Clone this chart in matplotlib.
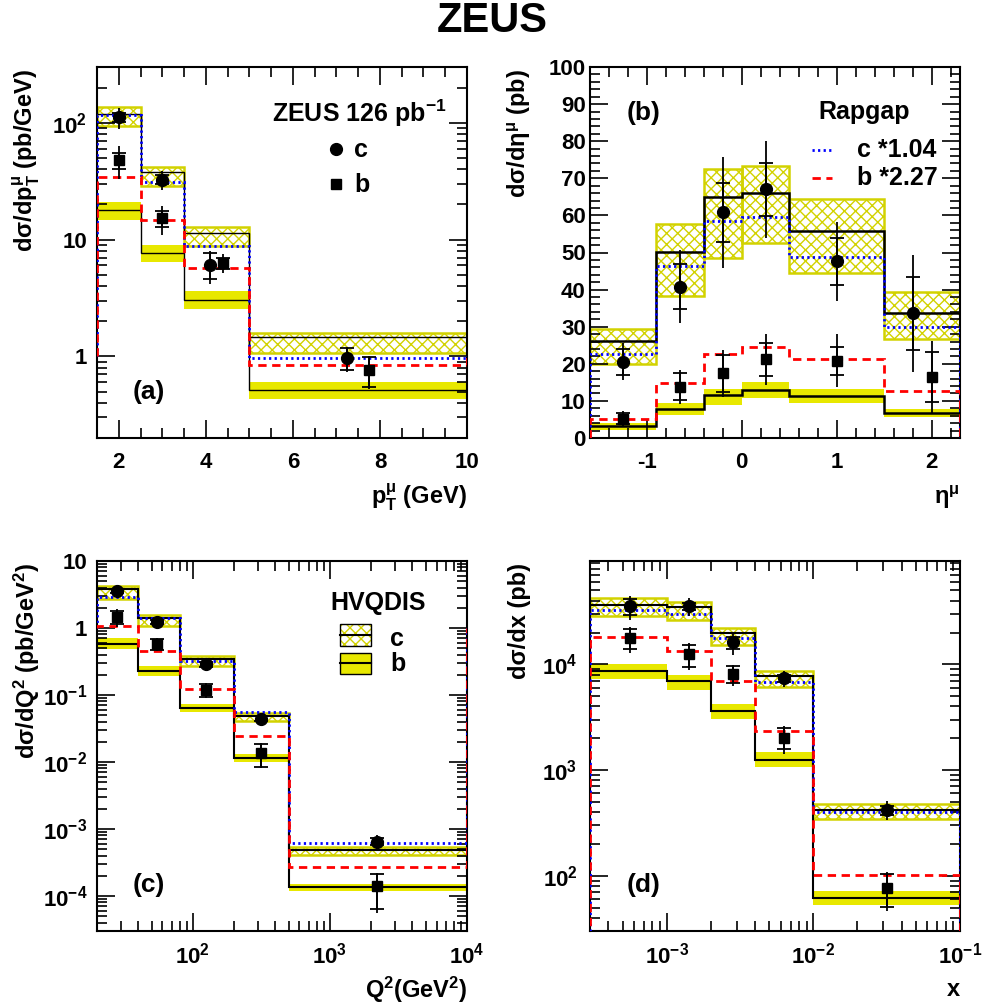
import numpy as np
import matplotlib
matplotlib.use("Agg")
import matplotlib.pyplot as plt
from matplotlib.ticker import MultipleLocator, FuncFormatter, LogLocator, NullFormatter
from matplotlib.patches import Rectangle

plt.rcParams.update({
    "font.family": "Liberation Sans",
    "font.weight": "bold",
    "mathtext.fontset": "custom",
    "mathtext.rm": "Liberation Sans:bold",
    "mathtext.it": "Liberation Sans:bold",
    "mathtext.bf": "Liberation Sans:bold",
    "mathtext.sf": "Liberation Sans:bold",
    "hatch.linewidth": 1.0,
    "axes.linewidth": 1.5,
    "axes.unicode_minus": False,
})

YELLOW = "#e8e800"
OLIVE = "#d2d200"

# ---- (a) pT ----
edges_a = [1.5, 2.5, 3.5, 5, 10]
xc_a = [2, 3, 4.1, 7.25]
yc_a = [111, 32.6, 6.1, 0.97]
c_stat_a = [10, 3, 1.5, 0.21]
c_tot_a = [23, 6, 1.9, 0.24]
xb_a = [2, 3, 4.4, 7.75]
yb_a = [48, 15.2, 6.3, 0.77]
b_stat_a = [7.5, 2.3, 0.7, 0.22]
b_tot_a = [15, 4.2, 1.15, 0.24]
hvq_c_a = [119, 38, 11.4, 1.46]
hvq_c_lo_a = [94, 28.8, 8.8, 1.07]
hvq_c_hi_a = [137, 41.5, 12.8, 1.6]
hvq_b_a = [18, 7.7, 3.06, 0.52]
hvq_b_lo_a = [14.7, 6.4, 2.56, 0.43]
hvq_b_hi_a = [20.8, 9.0, 3.6, 0.60]
rap_c_a = [116, 31, 8.8, 0.97]
rap_b_a = [34.5, 14.8, 5.7, 0.84]

# ---- (b) eta ----
edges_b = [-1.6, -0.9, -0.4, 0, 0.5, 1.5, 2.3]
xc_b = [-1.25, -0.65, -0.2, 0.25, 1.0, 1.8]
yc_b = [20.5, 40.8, 60.8, 67.0, 47.6, 33.6]
c_stat_b = [3.5, 6, 7.9, 7.1, 6.4, 9.8]
c_tot_b = [5, 9.8, 15, 13, 10.7, 15.8]
xb_b = [-1.25, -0.65, -0.2, 0.25, 1.0, 2.0]
yb_b = [5.2, 13.8, 17.4, 21.2, 20.8, 16.5]
b_stat_b = [1.5, 3.6, 5.1, 4.4, 3.8, 6.7]
b_tot_b = [2.0, 4.6, 6.3, 6.8, 7.1, 9.7]
hvq_c_b = [26.1, 50.2, 64.9, 66.0, 55.7, 33.6]
hvq_c_lo_b = [19.9, 38.4, 48.5, 52.5, 44.4, 26.6]
hvq_c_hi_b = [29.3, 57.8, 72.6, 73.2, 64.4, 39.3]
hvq_b_b = [3.2, 7.9, 11.5, 12.9, 11.25, 6.75]
hvq_b_lo_b = [2.25, 6.3, 9.0, 10.9, 9.5, 5.7]
hvq_b_hi_b = [4.0, 9.3, 13.1, 15.1, 13.1, 7.9]
rap_c_b = [22.6, 46.4, 58.4, 59.7, 48.9, 29.8]
rap_b_b = [5.0, 14.7, 22.6, 24.6, 21.2, 12.7]

# ---- (c) Q2 ----
edges_c = [20, 40, 80, 200, 500, 10000]
x_c = [28, 55, 124, 312, 2222]
yc_c = [3.53, 1.23, 0.29, 0.0443, 6.5e-4]
c_stat_c = [0.25, 0.08, 0.025, 0.004, 0.8e-4]
c_tot_c = [0.4, 0.14, 0.04, 0.0075, 1.5e-4]
yb_c = [1.46, 0.577, 0.12, 0.0136, 1.39e-4]
b_stat_c = [0.33, 0.11, 0.027, 0.0052, 0.75e-4]
b_tot_c = [0.43, 0.13, 0.03, 0.0055, 0.84e-4]
hvq_c_c = [3.82, 1.41, 0.344, 0.049, 4.9e-4]
hvq_c_lo_c = [2.71, 1.06, 0.274, 0.041, 4.1e-4]
hvq_c_hi_c = [4.29, 1.56, 0.377, 0.054, 5.3e-4]
hvq_b_c = [0.583, 0.231, 0.064, 0.0115, 1.35e-4]
hvq_b_lo_c = [0.486, 0.194, 0.055, 0.0101, 1.2e-4]
hvq_b_hi_c = [0.70, 0.274, 0.074, 0.0132, 1.5e-4]
rap_c_c = [2.9, 1.39, 0.318, 0.0564, 6.2e-4]
rap_b_c = [1.06, 0.449, 0.124, 0.0247, 2.7e-4]

# ---- (d) x ----
edges_d = [3e-4, 1e-3, 2e-3, 4e-3, 1e-2, 1e-1]
x_d = [5.6e-4, 1.43e-3, 2.85e-3, 6.3e-3, 0.0316]
yc_d = [35.4e3, 35.4e3, 16.1e3, 7.36e3, 419]
c_stat_d = [6e3, 2.5e3, 2.1e3, 0.5e3, 40]
c_tot_d = [9e3, 7e3, 3.9e3, 1.3e3, 85]
yb_d = [17.7e3, 12.4e3, 8.1e3, 2.03e3, 77]
b_stat_d = [3.8e3, 2.9e3, 1.5e3, 0.45e3, 26]
b_tot_d = [5e3, 3.6e3, 1.8e3, 0.6e3, 31]
hvq_c_d = [36.7e3, 34.7e3, 19.7e3, 7.8e3, 419]
hvq_c_lo_d = [28.4e3, 26.4e3, 15.3e3, 6.12e3, 341]
hvq_c_hi_d = [42.5e3, 38.7e3, 22.3e3, 8.64e3, 476]
hvq_b_d = [8.7e3, 6.94e3, 3.62e3, 1.25e3, 61]
hvq_b_lo_d = [7.25e3, 5.7e3, 3.06e3, 1.06e3, 52.5]
hvq_b_hi_d = [10e3, 7.9e3, 4.25e3, 1.47e3, 71]
rap_c_d = [32.4e3, 29.7e3, 17.7e3, 6.74e3, 401]
rap_b_d = [18.3e3, 13.5e3, 6.94e3, 2.32e3, 102]


def decade(v, pos):
    e = int(round(np.log10(v)))
    if e == 0:
        return "1"
    if e == 1:
        return "10"
    return r"$10^{%d}$" % e


def draw(ax, edges, hc, hc_lo, hc_hi, hb, hb_lo, hb_hi, rc, rb,
         xc, yc, sc, tc, xb, yb, sb, tb, base, lwk):
    edges = np.asarray(edges, float)
    w = np.diff(edges)
    ax.bar(edges[:-1], np.subtract(hb_hi, hb_lo), w, bottom=hb_lo, align="edge",
           color=YELLOW, lw=0, zorder=1)
    ax.bar(edges[:-1], np.subtract(hc_hi, hc_lo), w, bottom=hc_lo, align="edge",
           facecolor="none", edgecolor=OLIVE, hatch="xxx", lw=1.8, zorder=1)
    ax.stairs(hc, edges, baseline=None, color="k", lw=lwk, zorder=2)
    ax.stairs(hb, edges, baseline=None, color="k", lw=lwk, zorder=2)
    ax.stairs(rc, edges, baseline=base, color="blue", ls=(0, (0.8, 1.2)), lw=2, zorder=3)
    ax.stairs(rb, edges, baseline=base, color="red", ls=(0, (3, 2)), lw=2, zorder=3)
    for x, y, s, t, m, ms in [(xc, yc, sc, tc, "o", 8.5), (xb, yb, sb, tb, "s", 7)]:
        ax.errorbar(x, y, yerr=t, fmt="none", ecolor="k", elinewidth=1.3, capsize=0, zorder=4)
        ax.errorbar(x, y, yerr=s, fmt="none", ecolor="k", elinewidth=1.3, capsize=5,
                    capthick=1.3, zorder=4)
        ax.plot(x, y, m, color="k", ms=ms, zorder=5)
    ax.tick_params(which="both", direction="in", top=True, right=True, labelsize=16)
    ax.tick_params(which="major", length=13, width=1.2)
    ax.tick_params(which="minor", length=7, width=1.2)


def style_log(ax, axis):
    a = ax.xaxis if axis == "x" else ax.yaxis
    a.set_major_locator(LogLocator(base=10, numticks=20))
    a.set_minor_locator(LogLocator(base=10, subs=np.arange(2, 10), numticks=50))
    a.set_major_formatter(FuncFormatter(decade))
    a.set_minor_formatter(NullFormatter())


W, H = 985, 1008


def axes_at(x0, x1, ytop, ybot):
    return fig.add_axes([x0 / W, (H - ybot) / H, (x1 - x0) / W, (ybot - ytop) / H])


fig = plt.figure(figsize=(9.85, 10.08), dpi=100)
fig.text(0.5, 0.979, "ZEUS", ha="center", va="center", fontsize=30, weight="bold")

ax_a = axes_at(97, 467, 67, 438)
ax_b = axes_at(590, 960, 67, 438)
ax_c = axes_at(97, 467, 561, 931)
ax_d = axes_at(590, 960, 561, 931)

# (a)
ax_a.set_yscale("log")
draw(ax_a, edges_a, hvq_c_a, hvq_c_lo_a, hvq_c_hi_a, hvq_b_a, hvq_b_lo_a, hvq_b_hi_a,
     rap_c_a, rap_b_a, xc_a, yc_a, c_stat_a, c_tot_a, xb_a, yb_a, b_stat_a, b_tot_a, 1, 1.0)
ax_a.set_xlim(1.5, 10)
ax_a.set_ylim(0.2, 300)
ax_a.xaxis.set_major_locator(MultipleLocator(2))
ax_a.xaxis.set_minor_locator(MultipleLocator(0.5))
style_log(ax_a, "y")
ax_a.tick_params(axis="x", pad=10)
ax_a.tick_params(axis="y", pad=7)

# (b)
draw(ax_b, edges_b, hvq_c_b, hvq_c_lo_b, hvq_c_hi_b, hvq_b_b, hvq_b_lo_b, hvq_b_hi_b,
     rap_c_b, rap_b_b, xc_b, yc_b, c_stat_b, c_tot_b, xb_b, yb_b, b_stat_b, b_tot_b, 0, 1.8)
ax_b.set_xlim(-1.6, 2.3)
ax_b.set_ylim(0, 100)
ax_b.xaxis.set_major_locator(MultipleLocator(1))
ax_b.xaxis.set_minor_locator(MultipleLocator(0.2))
ax_b.yaxis.set_major_locator(MultipleLocator(10))
ax_b.yaxis.set_minor_locator(MultipleLocator(2))
ax_b.tick_params(axis="x", pad=10)
ax_b.tick_params(axis="y", pad=3)

# (c)
ax_c.set_xscale("log")
ax_c.set_yscale("log")
draw(ax_c, edges_c, hvq_c_c, hvq_c_lo_c, hvq_c_hi_c, hvq_b_c, hvq_b_lo_c, hvq_b_hi_c,
     rap_c_c, rap_b_c, x_c, yc_c, c_stat_c, c_tot_c, x_c, yb_c, b_stat_c, b_tot_c, 1, 1.5)
ax_c.set_xlim(20, 1e4)
ax_c.set_ylim(3e-5, 10)
style_log(ax_c, "x")
style_log(ax_c, "y")
ax_c.tick_params(axis="x", pad=8)
ax_c.tick_params(axis="y", pad=7)

# (d)
ax_d.set_xscale("log")
ax_d.set_yscale("log")
draw(ax_d, edges_d, hvq_c_d, hvq_c_lo_d, hvq_c_hi_d, hvq_b_d, hvq_b_lo_d, hvq_b_hi_d,
     rap_c_d, rap_b_d, x_d, yc_d, c_stat_d, c_tot_d, x_d, yb_d, b_stat_d, b_tot_d, 1, 1.5)
ax_d.set_xlim(3e-4, 0.1)
ax_d.set_ylim(30, 9.5e4)
style_log(ax_d, "x")
style_log(ax_d, "y")
ax_d.tick_params(axis="x", pad=8)
ax_d.tick_params(axis="y", pad=9)

# axis titles (ROOT style: y top-aligned, x right-aligned)
ylabels = [(ax_a, "dσ/dp$_{T}^{μ}$ (pb/GeV)"), (ax_b, "dσ/dη$^{μ}$ (pb)"),
           (ax_c, "dσ/dQ$^{2}$ (pb/GeV$^{2}$)"), (ax_d, "dσ/dx (pb)")]
for ax, s in ylabels:
    ax.text(-0.19, 0.995, s, rotation=90, ha="center", va="top", fontsize=17,
            transform=ax.transAxes)
xlabels = [(ax_a, "p$_{T}^{μ}$ (GeV)"), (ax_b, "η$^{μ}$"),
           (ax_c, "Q$^{2}$(GeV$^{2}$)"), (ax_d, "x")]
for ax, s in xlabels:
    ax.text(1.0, -0.159, s, ha="right", va="center", fontsize=17, transform=ax.transAxes)

# panel tags
for ax, s, x, y in [(ax_a, "(a)", 0.097, 0.124), (ax_b, "(b)", 0.099, 0.875),
                    (ax_c, "(c)", 0.097, 0.124), (ax_d, "(d)", 0.099, 0.124)]:
    ax.text(x, y, s, ha="left", va="center", fontsize=19, transform=ax.transAxes)

# legend (a)
ax_a.text(0.473, 0.876, "ZEUS 126 pb$^{-1}$", ha="left", va="center", fontsize=18,
          transform=ax_a.transAxes)
ax_a.plot([0.646], [0.779], "o", color="k", ms=8.5, transform=ax_a.transAxes)
ax_a.plot([0.646], [0.685], "s", color="k", ms=7, transform=ax_a.transAxes)
ax_a.text(0.695, 0.776, "c", ha="left", va="center", fontsize=18, transform=ax_a.transAxes)
ax_a.text(0.695, 0.682, "b", ha="left", va="center", fontsize=18, transform=ax_a.transAxes)

# legend (b)
ax_b.text(0.616, 0.879, "Rapgap", ha="left", va="center", fontsize=18,
          transform=ax_b.transAxes)
ax_b.plot([0.600, 0.654], [0.776, 0.776], color="blue", ls=(0, (0.8, 1.2)), lw=2,
          transform=ax_b.transAxes)
ax_b.plot([0.600, 0.654], [0.700, 0.700], color="red", ls=(0, (3, 2)), lw=2,
          transform=ax_b.transAxes)
ax_b.text(0.721, 0.776, "c *1.04", ha="left", va="center", fontsize=18,
          transform=ax_b.transAxes)
ax_b.text(0.721, 0.700, "b *2.27", ha="left", va="center", fontsize=18,
          transform=ax_b.transAxes)

# legend (c)
ax_c.text(0.630, 0.887, "HVQDIS", ha="left", va="center", fontsize=18,
          transform=ax_c.transAxes)
bx0, bw = 0.657, 0.084
for y0, h, hatched in [(0.771, 0.059, True), (0.695, 0.057, False)]:
    if hatched:
        ax_c.add_patch(Rectangle((bx0, y0), bw, h, facecolor="white", edgecolor=OLIVE,
                                 hatch="xxx", lw=0, transform=ax_c.transAxes, zorder=6))
    else:
        ax_c.add_patch(Rectangle((bx0, y0), bw, h, facecolor=YELLOW, lw=0,
                                 transform=ax_c.transAxes, zorder=6))
    ax_c.add_patch(Rectangle((bx0, y0), bw, h, facecolor="none", edgecolor="k", lw=1.0,
                             transform=ax_c.transAxes, zorder=7))
    ax_c.plot([bx0, bx0 + bw], [y0 + h / 2, y0 + h / 2], color="k", lw=1.5,
              transform=ax_c.transAxes, zorder=8)
ax_c.text(0.792, 0.790, "c", ha="left", va="center", fontsize=18, transform=ax_c.transAxes)
ax_c.text(0.792, 0.722, "b", ha="left", va="center", fontsize=18, transform=ax_c.transAxes)

fig.savefig("out.png", dpi=100)
